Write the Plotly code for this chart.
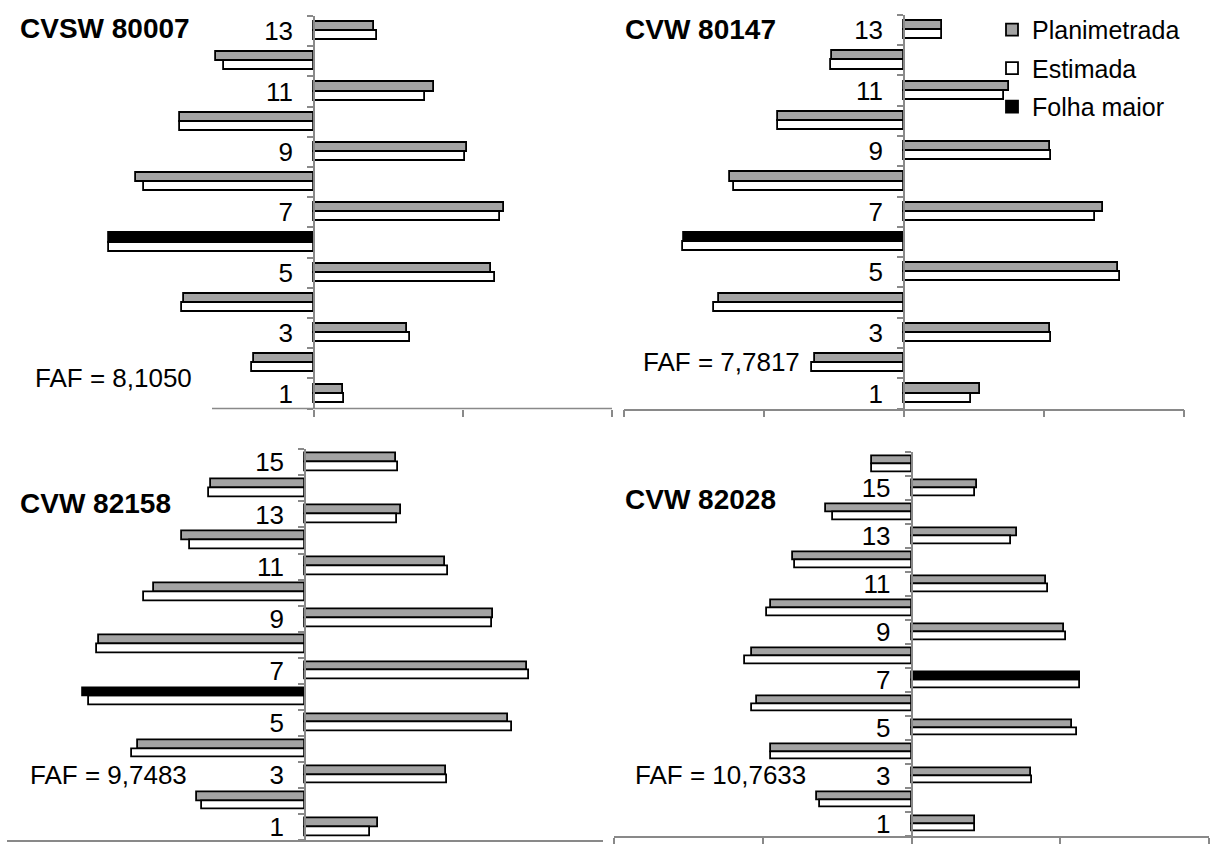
import plotly.graph_objects as go

# Leaf area per leaf position (leaf 1 = base of the plant); odd leaves on the right, even on the left
leaves_80007 = list(range(1, 14))
plan_80007 = [38.7, 81.2, 125.1, 174.9, 238.2, 274.9, 254.5, 238.7, 205.8, 179.6, 161.3, 131.9, 81.2]
est_80007 = [40.8, 83.8, 129.3, 177.0, 243.5, 274.9, 250.3, 227.7, 203.1, 179.6, 149.2, 120.9, 84.8]

leaves_80147 = list(range(1, 14))
plan_80147 = [108.1, 126.5, 208.4, 264.6, 306.4, 314.8, 284.1, 249.0, 208.4, 180.5, 150.4, 103.1, 54.6]
est_80147 = [96.4, 130.9, 209.5, 271.3, 308.1, 315.9, 273.0, 242.3, 210.6, 179.4, 142.6, 104.2, 54.6]

leaves_82158 = list(range(1, 16))
plan_82158 = [97.4, 145.0, 189.5, 223.6, 272.8, 298.4, 297.9, 275.9, 252.9, 202.1, 188.0, 164.9, 128.3, 125.7, 122.5]
est_82158 = [87.4, 138.2, 190.1, 231.9, 278.0, 290.1, 301.1, 279.6, 250.8, 216.2, 192.2, 155.0, 123.0, 128.3, 124.6]

leaves_82028 = list(range(1, 17))
plan_82028 = [85.7, 127.3, 160.5, 188.6, 216.1, 207.8, 226.0, 214.5, 205.7, 188.6, 180.3, 159.0, 142.3, 114.8, 87.8, 53.5]
est_82028 = [85.7, 122.6, 161.6, 188.6, 222.9, 215.1, 226.0, 223.4, 208.3, 193.8, 182.9, 156.4, 133.5, 105.5, 85.7, 53.5]

varieties = ["CVSW 80007", "CVW 80147", "CVW 82158", "CVW 82028"]
faf_labels = ["FAF = 8,1050", "FAF = 7,7817", "FAF = 9,7483", "FAF = 10,7633"]
series_names = ["Planimetrada", "Estimada", "Folha maior"]

W, H = 1210, 844
GRAY = "#A3A3A3"
AXIS = "#898989"
FONT = "Arial, Liberation Sans, sans-serif"

# Layout of each panel in pixels: plot box (left, right, top, bottom), bar thickness,
# title and FAF anchor points, where the horizontal axis line starts, whether its ticks show
layout_px = [
    dict(box=(16, 612, 14, 409), bw=0.30, title=(18, 27), faf=(33, 378), line_from=212, xticks=True),
    dict(box=(624, 1184, 13, 409), bw=0.30, title=(623, 28), faf=(641, 362), line_from=None, xticks=True),
    dict(box=(7, 603, 450, 843), bw=0.34, title=(18, 504), faf=(28, 778), line_from=None, xticks=False),
    dict(box=(614, 1209, 453, 839), bw=0.32, title=(623, 500), faf=(633, 778), line_from=None, xticks=True),
]

data = [
    (leaves_80007, plan_80007, est_80007),
    (leaves_80147, plan_80147, est_80147),
    (leaves_82158, plan_82158, est_82158),
    (leaves_82028, plan_82028, est_82028),
]


def side(leaf, v):
    return v if leaf % 2 == 1 else -v


fig = go.Figure()
annotations = []
shapes = []
edge = dict(color="black", width=1.8)

for i, ((leaves, plan, est), lp) in enumerate(zip(data, layout_px)):
    k = i + 1
    xa, ya = f"x{k}", f"y{k}"
    xkey, ykey = f"xaxis{k}", f"yaxis{k}"
    n = len(leaves)
    big = max(range(n), key=lambda j: plan[j])
    plan_x = [None if j == big else side(l, plan[j]) for j, l in enumerate(leaves)]
    big_x = [side(l, plan[j]) if j == big else None for j, l in enumerate(leaves)]
    est_x = [side(l, est[j]) for j, l in enumerate(leaves)]
    bw = lp["bw"]
    show = (i == 1)

    fig.add_trace(go.Bar(y=leaves, x=plan_x, orientation="h", offset=0, width=bw,
                         marker=dict(color=GRAY, line=edge),
                         name=series_names[0], legendgroup="p", legendrank=1,
                         showlegend=show, xaxis=xa, yaxis=ya))
    fig.add_trace(go.Bar(y=leaves, x=est_x, orientation="h", offset=-bw, width=bw,
                         marker=dict(color="white", line=edge),
                         name=series_names[1], legendgroup="e", legendrank=2,
                         showlegend=show, xaxis=xa, yaxis=ya))
    fig.add_trace(go.Bar(y=leaves, x=big_x, orientation="h", offset=0, width=bw,
                         marker=dict(color="black", line=edge),
                         name=series_names[2], legendgroup="f", legendrank=3,
                         showlegend=show, xaxis=xa, yaxis=ya))

    left, right, top, bottom = lp["box"]
    odd = [l for l in leaves if l % 2 == 1]
    fig.layout[xkey] = dict(
        domain=[left / W, right / W], range=[-400, 400], anchor=ya,
        showline=lp["line_from"] is None, linecolor=AXIS, linewidth=1.5,
        tickmode="array",
        tickvals=[0, 200, 400] if lp["line_from"] else [-400, -200, 0, 200, 400],
        ticks="outside" if lp["xticks"] else "", ticklen=7, tickcolor=AXIS, tickwidth=1.5,
        showticklabels=False, showgrid=False, zeroline=False, fixedrange=True,
    )
    fig.layout[ykey] = dict(
        domain=[1 - bottom / H, 1 - top / H], range=[0.5, n + 0.5],
        anchor="free", position=(left + right) / 2 / W,
        showline=True, linecolor=AXIS, linewidth=1.5,
        tickmode="array", tickvals=odd, ticktext=[str(v) for v in odd], ticks="",
        tickfont=dict(family=FONT, size=26, color="black"), ticklabelstandoff=15,
        minor=dict(tickmode="array", tickvals=[j + 0.5 for j in range(n + 1)],
                   ticks="outside", ticklen=6, tickcolor=AXIS, tickwidth=1.5, showgrid=False),
        showgrid=False, zeroline=False, fixedrange=True,
    )

    if lp["line_from"] is not None:
        shapes.append(dict(type="line", xref="paper", yref="paper",
                           x0=lp["line_from"] / W, x1=right / W,
                           y0=1 - bottom / H, y1=1 - bottom / H,
                           line=dict(color=AXIS, width=1.5)))

    tx, ty = lp["title"]
    annotations.append(dict(text=f"<b>{varieties[i]}</b>", xref="paper", yref="paper",
                            x=tx / W, y=1 - ty / H, xanchor="left", yanchor="middle",
                            showarrow=False, font=dict(family=FONT, size=28, color="black")))
    fx, fy = lp["faf"]
    annotations.append(dict(text=faf_labels[i], xref="paper", yref="paper",
                            x=fx / W, y=1 - fy / H, xanchor="left", yanchor="middle",
                            showarrow=False, font=dict(family=FONT, size=26, color="black")))

fig.update_layout(
    width=W, height=H, margin=dict(l=0, r=0, t=0, b=0),
    paper_bgcolor="white", plot_bgcolor="rgba(0,0,0,0)",
    barmode="overlay", bargap=0,
    font=dict(family=FONT, color="black"),
    annotations=annotations, shapes=shapes,
    legend=dict(x=992 / W, y=1 - 5 / H, xanchor="left", yanchor="top",
                font=dict(family=FONT, size=25, color="black"),
                tracegroupgap=3, bgcolor="rgba(0,0,0,0)", borderwidth=0),
    showlegend=True,
)

fig.write_html("out.html")
